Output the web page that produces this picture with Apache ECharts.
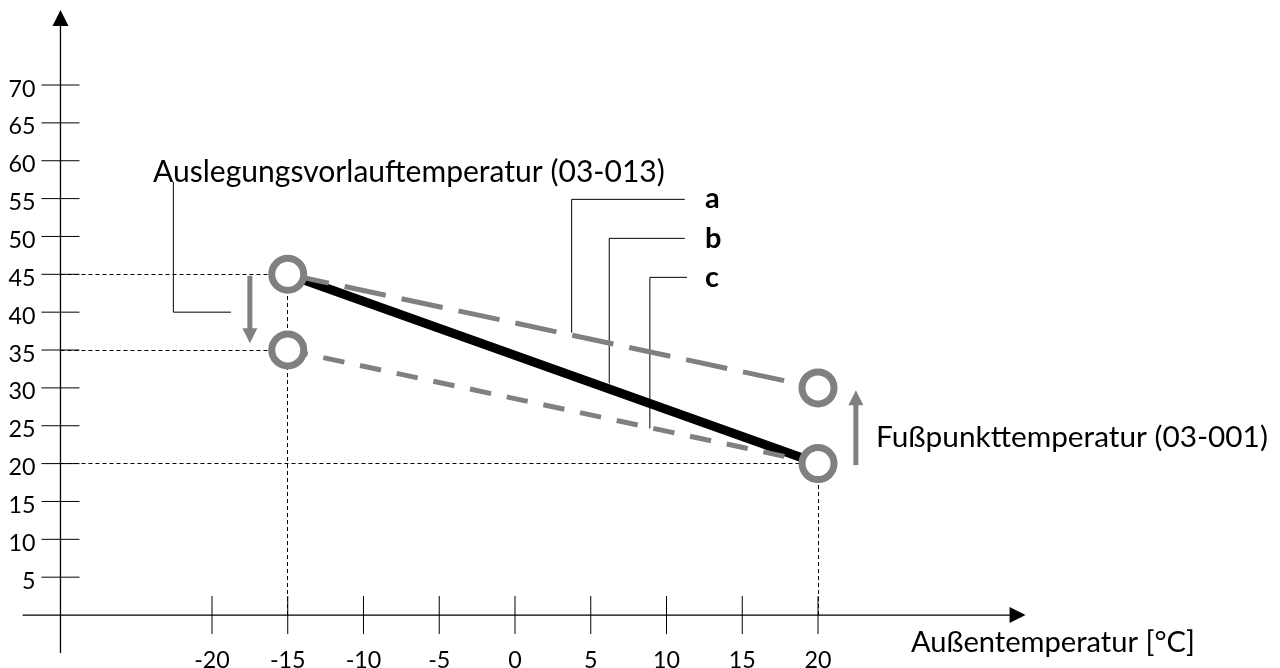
<!DOCTYPE html>
<html><head><meta charset="utf-8">
<script src="https://cdn.jsdelivr.net/npm/echarts@6/dist/echarts.min.js"></script>
<style>html,body{margin:0;padding:0;background:#fff}#c{width:1280px;height:668px}</style>
</head><body><div id="c"></div>
<script>
// ---- data ----
const xTicks = [-20, -15, -10, -5, 0, 5, 10, 15, 20];
const yTicks = [5, 10, 15, 20, 25, 30, 35, 40, 45, 50, 55, 60, 65, 70];
const xTickLabels = ['-20', '-15', '-10', '-5', '0', '5', '10', '15', '20'];
const yTickLabels = ['5', '10', '15', '20', '25', '30', '35', '40', '45', '50', '55', '60', '65', '70'];
const axisCross = [-30, 0];
const xAxisSpan = [-32.5, 33.7];
const yAxisSpan = [-5, 79.9];
const curveA = [[-15, 45], [20, 30]];
const curveB = [[-15, 45], [20, 20]];
const curveC = [[-15, 35], [20, 20]];
const setPoints = [[-15, 45], [-15, 35], [20, 30], [20, 20]];
const guideLines = [
  [[-30, 45], [-15, 45]],
  [[-30, 35], [-15, 35]],
  [[-30, 20], [20, 20]],
  [[-15, 0], [-15, 45]],
  [[20, 0], [20, 20]]
];
const leaderLines = [
  [[-22.55, 57.2], [-22.55, 40.0], [-18.75, 40.0]],
  [[11.2, 54.9], [3.74, 54.9], [3.74, 37.3]],
  [[11.2, 49.75], [6.22, 49.75], [6.22, 30.6]],
  [[11.35, 44.6], [8.9, 44.6], [8.9, 24.65]]
];
const shiftArrows = [[-17.5, 44.8, 35.9], [22.5, 19.8, 29.7]];
const designLabel = 'Auslegungsvorlauftemperatur (03-013)';
const baseLabel = 'Fußpunkttemperatur (03-001)';
const xAxisName = 'Außentemperatur [°C]';
const curveNames = ['a', 'b', 'c'];

// ---- styling helpers ----
const FONT = 'Lato';
const mctx = document.createElement('canvas').getContext('2d');
function fitSize(text, target, weight) {
  mctx.font = (weight || 'normal') + ' 100px ' + FONT;
  return 100 * target / mctx.measureText(text).width;
}
const tickSize = fitSize('70', 27);
const designSize = fitSize(designLabel, 512);
const baseSize = fitSize(baseLabel, 392);
const xNameSize = fitSize(xAxisName, 284);
const GRAY = '#808080';

const chart = echarts.init(document.getElementById('c'), null, { renderer: 'canvas' });

const option = {
  animation: false,
  backgroundColor: '#fff',
  grid: { left: 22.6, right: 252.9, top: 9.3, bottom: 15.1 },
  xAxis: { type: 'value', min: -32.5, max: 33.8, show: false },
  yAxis: { type: 'value', min: -5, max: 80, show: false },
  series: [
    { // axes with arrow heads
      type: 'custom', data: [axisCross], encode: { x: 0, y: 1 }, z: 5, silent: true,
      renderItem(params, api) {
        const cx = api.value(0), cy = api.value(1);
        const xs = api.coord([xAxisSpan[0], cy]), xe = api.coord([xAxisSpan[1], cy]);
        const ys = api.coord([cx, yAxisSpan[0]]), ye = api.coord([cx, yAxisSpan[1]]);
        const ah = 16, aw = 8;
        const st = { stroke: '#000', lineWidth: 1.3 };
        return { type: 'group', children: [
          { type: 'line', shape: { x1: xs[0], y1: xs[1], x2: xe[0] - ah + 1, y2: xe[1] }, style: st },
          { type: 'polygon', shape: { points: [[xe[0], xe[1]], [xe[0] - ah, xe[1] - aw], [xe[0] - ah, xe[1] + aw]] }, style: { fill: '#000' } },
          { type: 'line', shape: { x1: ys[0], y1: ys[1], x2: ye[0], y2: ye[1] + ah - 1 }, style: st },
          { type: 'polygon', shape: { points: [[ye[0], ye[1]], [ye[0] - aw, ye[1] + ah], [ye[0] + aw, ye[1] + ah]] }, style: { fill: '#000' } }
        ] };
      }
    },
    { // x ticks and labels
      type: 'custom', data: xTicks.map(v => [v, axisCross[1]]), encode: { x: 0, y: 1 }, z: 5, silent: true,
      renderItem(params, api) {
        const p = api.coord([api.value(0), api.value(1)]);
        return { type: 'group', children: [
          { type: 'line', shape: { x1: p[0], y1: p[1] - 19, x2: p[0], y2: p[1] + 19 }, style: { stroke: '#000', lineWidth: 1 } },
          { type: 'text', x: p[0], y: p[1] + 45, style: { text: xTickLabels[params.dataIndex], font: tickSize + 'px ' + FONT, fill: '#000', align: 'center', verticalAlign: 'middle' } }
        ] };
      }
    },
    { // y ticks and labels
      type: 'custom', data: yTicks.map(v => [axisCross[0], v]), encode: { x: 0, y: 1 }, z: 5, silent: true,
      renderItem(params, api) {
        const p = api.coord([api.value(0), api.value(1)]);
        return { type: 'group', children: [
          { type: 'line', shape: { x1: p[0] - 19, y1: p[1], x2: p[0] + 19, y2: p[1] }, style: { stroke: '#000', lineWidth: 1 } },
          { type: 'text', x: p[0] - 25, y: p[1] + 4, style: { text: yTickLabels[params.dataIndex], font: tickSize + 'px ' + FONT, fill: '#000', align: 'right', verticalAlign: 'middle' } }
        ] };
      }
    },
    { // dashed guide lines
      type: 'lines', coordinateSystem: 'cartesian2d', silent: true, z: 1,
      data: guideLines.map(c => ({ coords: c })),
      lineStyle: { color: '#000', width: 1, type: [4, 3], opacity: 1 }
    },
    { // leader lines
      type: 'lines', coordinateSystem: 'cartesian2d', polyline: true, silent: true, z: 1,
      data: leaderLines.map(c => ({ coords: c })),
      lineStyle: { color: '#000', width: 1, opacity: 1 }
    },
    { name: 'b', type: 'line', data: curveB, symbol: 'none', silent: true, z: 2,
      lineStyle: { color: '#000', width: 9, cap: 'butt' } },
    { name: 'a', type: 'line', data: curveA, symbol: 'none', silent: true, z: 3,
      lineStyle: { color: GRAY, width: 5, type: [42, 16.2], dashOffset: 0, cap: 'butt' } },
    { name: 'c', type: 'line', data: curveC, symbol: 'none', silent: true, z: 3,
      lineStyle: { color: GRAY, width: 5, type: [21.5, 16], dashOffset: 1.1, cap: 'butt' } },
    { // shift arrows
      type: 'custom', data: shiftArrows, encode: { x: 0, y: [1, 2] }, z: 4, silent: true,
      renderItem(params, api) {
        const x = api.value(0);
        const p0 = api.coord([x, api.value(1)]), p1 = api.coord([x, api.value(2)]);
        const dir = p1[1] > p0[1] ? 1 : -1;
        const hl = 15, hw = 7.5;
        return { type: 'group', children: [
          { type: 'line', shape: { x1: p0[0], y1: p0[1], x2: p1[0], y2: p1[1] - dir * (hl - 1) }, style: { stroke: GRAY, lineWidth: 5 } },
          { type: 'polygon', shape: { points: [[p1[0], p1[1]], [p1[0] - hw, p1[1] - dir * hl], [p1[0] + hw, p1[1] - dir * hl]] }, style: { fill: GRAY } }
        ] };
      }
    },
    { // set points (rings)
      type: 'scatter', data: setPoints, symbol: 'circle', symbolSize: 32, silent: true, z: 6,
      itemStyle: { color: '#fff', borderColor: GRAY, borderWidth: 7, opacity: 1 }
    }
  ],
  graphic: [
    { type: 'text', x: 153, y: 172, z: 10, style: { text: designLabel, font: designSize + 'px ' + FONT, fill: '#000', align: 'left', verticalAlign: 'middle' } },
    { type: 'text', x: 876, y: 437, z: 10, style: { text: baseLabel, font: baseSize + 'px ' + FONT, fill: '#000', align: 'left', verticalAlign: 'middle' } },
    { type: 'text', x: 911, y: 643, z: 10, style: { text: xAxisName, font: xNameSize + 'px ' + FONT, fill: '#000', align: 'left', verticalAlign: 'middle' } },
    { type: 'text', x: 705, y: 199, z: 10, style: { text: curveNames[0], font: 'bold 29px ' + FONT, fill: '#000', align: 'left', verticalAlign: 'middle' } },
    { type: 'text', x: 705, y: 239, z: 10, style: { text: curveNames[1], font: 'bold 29px ' + FONT, fill: '#000', align: 'left', verticalAlign: 'middle' } },
    { type: 'text', x: 705, y: 278, z: 10, style: { text: curveNames[2], font: 'bold 29px ' + FONT, fill: '#000', align: 'left', verticalAlign: 'middle' } }
  ]
};
chart.setOption(option);
</script>
</body></html>
